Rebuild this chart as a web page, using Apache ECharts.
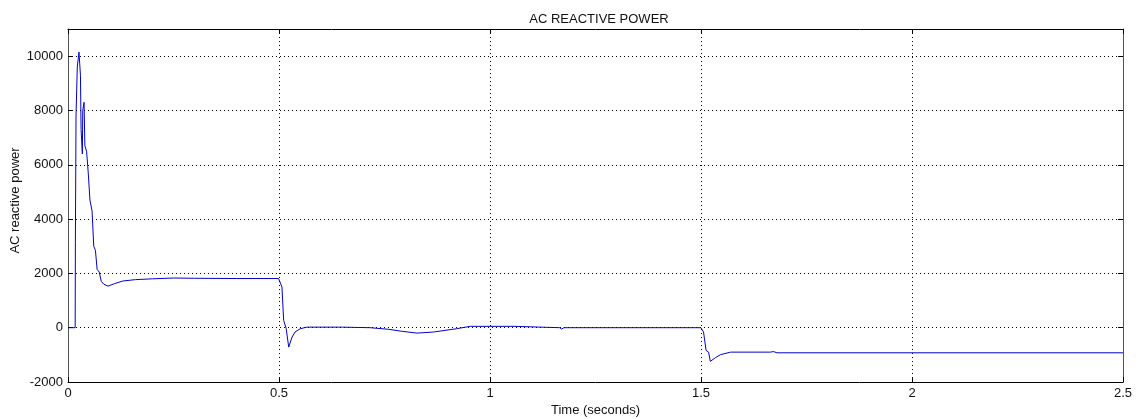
<!DOCTYPE html>
<html><head><meta charset="utf-8">
<script src="https://cdn.jsdelivr.net/npm/echarts@6/dist/echarts.min.js"></script>
<style>html,body{margin:0;padding:0;background:#fff}#c{width:1141px;height:419px}</style>
</head><body><div id="c"></div>
<script>
const timeSec = [0,0.017,0.0175,0.019,0.022,0.026,0.028,0.0295,0.031,0.034,0.035,0.038,0.040,0.044,0.048,0.052,0.057,0.061,0.065,0.069,0.074,0.079,0.085,0.095,0.11,0.13,0.16,0.2,0.25,0.3,0.4,0.499,0.507,0.511,0.517,0.523,0.531,0.538,0.55,0.566,0.65,0.716,0.76,0.79,0.827,0.866,0.92,0.953,1.057,1.06,1.165,1.17,1.175,1.4996,1.506,1.512,1.518,1.522,1.526,1.534,1.546,1.57,1.664,1.672,1.68,2.5];
const reactivePower = [0,0,3150,7800,9600,10150,10100,9300,7300,6400,8000,8300,6700,6500,5700,4700,4300,3000,2850,2150,2050,1700,1600,1530,1620,1720,1770,1800,1830,1820,1810,1810,1500,270,-30,-715,-345,-160,-40,20,20,0,-60,-130,-200,-160,-40,50,50,0,0,-50,0,0,-160,-835,-900,-1240,-1265,-1105,-995,-900,-900,-880,-925,-925];
const xTicks = ['0','0.5','1','1.5','2','2.5'];
const yTicks = ['-2000','0','2000','4000','6000','8000','10000'];
const titleText = 'AC REACTIVE POWER';
const xName = 'Time (seconds)';
const yName = 'AC reactive power';

const chart = echarts.init(document.getElementById('c'), null, {renderer:'canvas'});
const font = {fontFamily:'Liberation Sans, Arial, sans-serif', fontSize:13, color:'#111'};
const split = {show:true, lineStyle:{color:'#000', type:[1,3], width:1}};
chart.setOption({
  animation:false,
  title:{text:titleText, left:594, top:8, textAlign:'center', textStyle:Object.assign({fontWeight:'normal'}, font)},
  grid:{left:68, right:18, top:29, bottom:37, show:false, containLabel:false, outerBoundsMode:'none'},
  xAxis:[{
    type:'value', min:0, max:2.5, interval:0.5,
    name:xName, nameLocation:'middle', nameGap:22, nameMoveOverlap:false, nameTextStyle:font,
    axisLine:{show:true, onZero:false, lineStyle:{color:'#000'}},
    axisTick:{show:true, inside:true, length:5, lineStyle:{color:'#000'}},
    axisLabel:Object.assign({margin:5, formatter:v=>xTicks[Math.round(v/0.5)]}, font),
    splitLine:split
  },{
    type:'value', position:'top', min:0, max:2.5, interval:0.5,
    axisLine:{show:true, onZero:false, lineStyle:{color:'#000'}},
    axisTick:{show:true, inside:true, length:5, lineStyle:{color:'#000'}},
    axisLabel:{show:false}, splitLine:{show:false}
  }],
  yAxis:[{
    type:'value', min:-2000, max:11000, interval:2000,
    name:yName, nameLocation:'middle', nameGap:46, nameMoveOverlap:false, nameTextStyle:Object.assign({padding:[0,0,0,10]}, font),
    axisLine:{show:true, onZero:false, lineStyle:{color:'#555'}},
    axisTick:{show:true, inside:true, length:5, lineStyle:{color:'#000'}},
    axisLabel:Object.assign({margin:5, showMaxLabel:false, formatter:v=>{const i=Math.round((v+2000)/2000);return (v%2000===0 && yTicks[i])?yTicks[i]:'';}}, font),
    splitLine:split
  },{
    type:'value', position:'right', min:-2000, max:11000, interval:2000,
    axisLine:{show:true, onZero:false, lineStyle:{color:'#555'}},
    axisTick:{show:true, inside:true, length:5, lineStyle:{color:'#000'}},
    axisLabel:{show:false}, splitLine:{show:false}
  }],
  series:[{
    type:'line', xAxisIndex:0, yAxisIndex:0, showSymbol:false, symbol:'none',
    data:timeSec.map((t,i)=>[t, reactivePower[i]]),
    lineStyle:{color:'#0000cc', width:1}
  }]
});
</script></body></html>
